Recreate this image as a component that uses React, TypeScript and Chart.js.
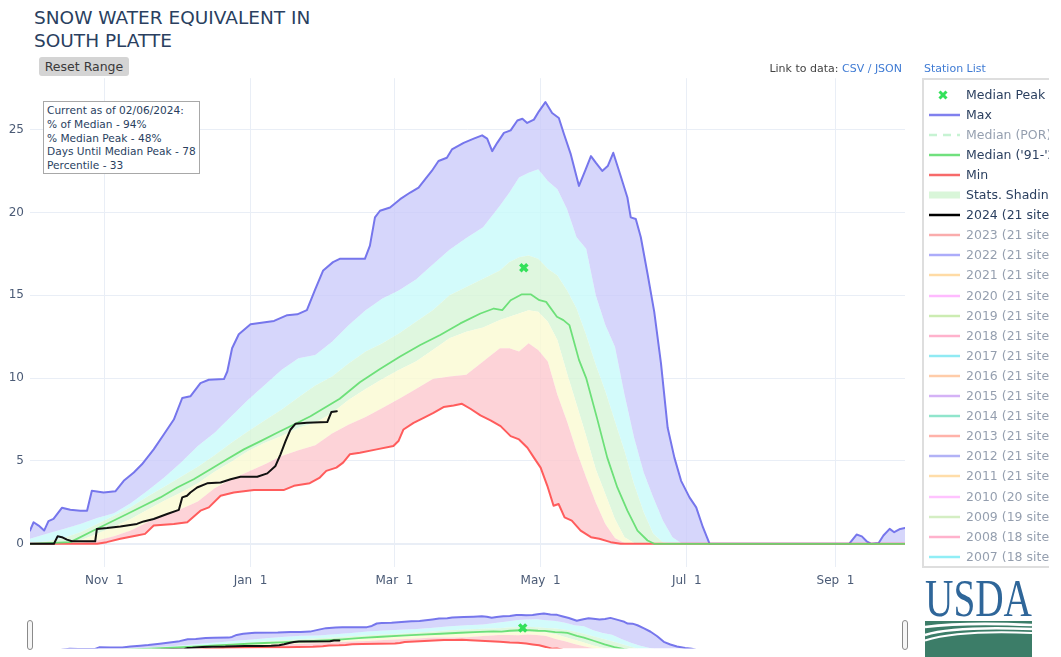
import React, { useEffect, useRef } from "react";
import { Chart, registerables } from "chart.js";

Chart.register(...registerables);

const FONT = "'DejaVu Sans', Verdana, sans-serif";

// ---- Axis ticks (x = day of water year, day 0 = Oct 1, 2023) ----
const tickDays = [31, 92, 152, 213, 274, 336];
const tickLabels = ["Nov 1", "Jan 1", "Mar 1", "May 1", "Jul 1", "Sep 1"];
const yTickValues = [0, 5, 10, 15, 20, 25];

// ---- Max ----
const maxDays = [0, 1.5, 3.6, 5.9, 7.7, 9.8, 13.3, 16.8, 21, 23.8, 25.8, 30.7, 35.6, 39.1, 43.3, 46.7, 51.6, 55.8, 60, 63.5, 66.9, 71.1, 74.6, 80.9, 82.3, 84.3, 87.1, 92, 101.8, 107.3, 111.5, 115.5, 118.8, 122.3, 126.4, 129.2, 139.7, 141.8, 143.9, 146, 150.2, 154.4, 158.6, 162.1, 164.8, 167.6, 170.4, 173.9, 176, 180.9, 185.1, 188.6, 190.7, 192.8, 194.9, 197.7, 200.5, 203.3, 205.4, 207.4, 210.2, 212.3, 215, 217.8, 220.6, 222.7, 225.6, 229, 231.8, 234, 236, 238.7, 241, 243.3, 246.4, 249.2, 250.6, 252.7, 254.8, 257.6, 260.4, 263.2, 266, 268.8, 271.6, 275.1, 277.9, 280.7, 283.5, 341.7, 344.8, 347, 349, 351, 354, 356, 358.6, 360.5, 363, 365];
const maxValues = [0.8, 1.3, 1.1, 0.8, 1.37, 1.5, 2.17, 2.05, 2.0, 2.0, 3.2, 3.1, 3.17, 3.8, 4.3, 4.8, 5.7, 6.6, 7.5, 8.8, 8.9, 9.7, 9.9, 9.94, 10.4, 11.8, 12.65, 13.25, 13.45, 13.8, 13.85, 14.1, 15.3, 16.5, 17.0, 17.2, 17.2, 18.0, 19.7, 20.1, 20.3, 20.8, 21.2, 21.5, 22.0, 22.5, 23.1, 23.3, 23.8, 24.2, 24.45, 24.65, 24.45, 23.7, 24.2, 24.8, 24.95, 25.55, 25.65, 25.4, 25.6, 26.1, 26.66, 26.0, 25.7, 24.75, 23.5, 21.6, 22.6, 23.4, 23.0, 22.5, 22.8, 23.6, 22.2, 20.9, 19.7, 19.6, 18.5, 16.3, 14.0, 10.9, 7.0, 5.2, 3.8, 2.8, 2.2, 1.0, 0, 0, 0.56, 0.45, 0.15, 0, 0.05, 0.5, 0.9, 0.7, 0.9, 0.95];

// ---- Percentile band boundaries (Stats. Shading) ----
const bandDays = [0, 7, 14, 21, 28, 35, 42, 49, 56, 63, 70, 77, 84, 91, 98, 105, 112, 119, 126, 133, 140, 147, 154, 161, 168, 175, 182, 189, 196, 200, 204, 208, 212, 216, 220, 224, 228, 232, 236, 240, 244, 248, 252, 256, 260, 264, 268, 272, 280, 300, 330, 365];
const p90Values = [0.3, 0.6, 0.9, 1.2, 1.55, 1.85, 2.45, 3.2, 4.0, 4.9, 5.9, 6.7, 7.7, 8.7, 9.6, 10.5, 11.2, 11.4, 12.2, 13.2, 14.1, 14.8, 15.3, 15.95, 16.85, 17.75, 18.45, 19.1, 20.4, 21.2, 22.1, 22.4, 22.6, 21.9, 21.4, 20.2, 18.5, 17.8, 15.0, 13.2, 11.9, 9.0, 6.4, 4.3, 2.8, 1.4, 0.4, 0, 0, 0, 0, 0];
const p70Values = [0, 0.15, 0.35, 0.7, 1.2, 1.7, 2.2, 2.85, 3.45, 4.05, 4.65, 5.35, 6.1, 6.8, 7.45, 8.1, 8.85, 9.55, 10.1, 10.9, 11.6, 12.1, 12.7, 13.4, 14.1, 15.0, 15.5, 16.0, 16.5, 17.0, 17.3, 17.4, 17.2, 16.6, 16.2, 15.3, 14.2, 12.6, 10.8, 9.2, 7.4, 5.6, 3.6, 1.9, 0.6, 0.1, 0, 0, 0, 0, 0, 0];
const p30Values = [0, 0, 0.02, 0.2, 0.6, 1.05, 1.5, 2.05, 2.6, 3.1, 3.65, 4.35, 4.95, 5.6, 6.1, 6.5, 7.0, 7.3, 7.9, 8.7, 9.35, 9.95, 10.5, 11.0, 11.7, 12.4, 12.8, 13.05, 13.5, 13.7, 13.9, 14.1, 14.0, 13.4, 12.3, 10.3, 8.4, 6.5, 4.5, 3.0, 1.5, 0.4, 0.05, 0, 0, 0, 0, 0, 0, 0, 0, 0];
const p10Values = [0, 0, 0, 0.05, 0.2, 0.45, 0.8, 1.3, 1.75, 2.1, 2.55, 3.35, 3.9, 4.35, 4.8, 5.3, 5.65, 5.95, 6.65, 7.2, 7.65, 8.2, 8.75, 9.35, 9.95, 10.1, 10.2, 11.0, 11.8, 11.8, 11.6, 12.1, 11.7, 11.0, 9.0, 7.4, 5.6, 4.0, 2.5, 1.2, 0.35, 0.05, 0, 0, 0, 0, 0, 0, 0, 0, 0, 0];

// ---- Median ('91-'20) ----
const medianDays = [0, 16.8, 19.6, 26.5, 33.5, 40.5, 47.4, 54.4, 61.4, 68.3, 75.3, 82.2, 89.2, 96.2, 103.1, 110.1, 117, 121, 129.2, 137.6, 146, 154.4, 162.8, 171.1, 179.5, 187.9, 193.5, 197, 200.5, 205, 209, 212.5, 215.3, 219.8, 222.5, 225, 229, 232, 236.5, 240.8, 245, 249.2, 253.4, 257.6, 260.4, 365];
const medianValues = [0, 0.1, 0.3, 0.8, 1.3, 1.8, 2.3, 2.8, 3.4, 3.9, 4.5, 5.1, 5.7, 6.2, 6.7, 7.2, 7.7, 8.05, 8.75, 9.75, 10.55, 11.3, 12.0, 12.6, 13.3, 13.9, 14.2, 14.1, 14.7, 15.05, 15.05, 14.7, 14.6, 13.7, 13.5, 13.2, 11.1, 10.0, 7.6, 5.2, 3.4, 2.0, 0.8, 0.2, 0, 0];

// ---- Min ----
const minDays = [0, 28, 32, 37.7, 44.6, 48, 51.6, 60, 65.6, 71.1, 74.6, 79.5, 85, 93.4, 106, 110.1, 116.7, 120.9, 123.6, 127.8, 130.6, 133.4, 137.6, 144.6, 151.6, 153.7, 155.8, 160, 164.2, 168.3, 172.5, 176.7, 180.2, 183.7, 187.9, 192.1, 196.3, 200.5, 204, 207.5, 210.2, 213, 215.8, 218.4, 220.5, 223, 226, 229.7, 234, 237.5, 242.2, 246.4, 365];
const minValues = [0, 0, 0.1, 0.3, 0.5, 0.6, 1.1, 1.2, 1.3, 2.0, 2.2, 2.9, 3.1, 3.25, 3.25, 3.5, 3.66, 4.0, 4.4, 4.6, 4.9, 5.4, 5.5, 5.7, 5.9, 6.2, 6.9, 7.3, 7.6, 7.9, 8.25, 8.35, 8.45, 8.15, 7.75, 7.45, 7.1, 6.5, 6.3, 5.8, 5.2, 4.6, 3.5, 2.3, 2.4, 1.6, 1.4, 0.8, 0.4, 0.3, 0.1, 0, 0];

// ---- 2024 (21 sites) ----
const wy2024Days = [0, 10, 11.5, 13.3, 15.4, 17.5, 27.2, 27.9, 32.1, 37.7, 44.6, 47.4, 51.6, 57.2, 62.1, 63.5, 65.5, 66.9, 69.7, 73.9, 79.5, 83.7, 87.8, 94.8, 99, 102.4, 104.5, 106.6, 108.7, 110.8, 115.5, 124, 125.7, 128];
const wy2024Values = [0, 0, 0.45, 0.4, 0.25, 0.15, 0.15, 0.9, 0.95, 1.05, 1.2, 1.35, 1.5, 1.8, 2.05, 2.8, 2.9, 3.1, 3.4, 3.65, 3.7, 3.9, 4.05, 4.05, 4.25, 4.7, 5.4, 6.2, 6.9, 7.25, 7.3, 7.35, 7.95, 8.0];

// ---- Median Peak ----
const medianPeakDay = [206];
const medianPeakValue = [16.66];

// ---- Texts ----
const titleLines = ["SNOW WATER EQUIVALENT IN", "SOUTH PLATTE"];
const infoLines = [
  "Current as of 02/06/2024:",
  "% of Median - 94%",
  "% Median Peak - 48%",
  "Days Until Median Peak - 78",
  "Percentile - 33",
];
const yearLabels = ["2023", "2022", "2021", "2020", "2019", "2018", "2017", "2016", "2015", "2014", "2013", "2012", "2011", "2010", "2009", "2008", "2007"];
const yearSites = [21, 21, 21, 21, 21, 21, 21, 21, 21, 21, 21, 21, 21, 20, 19, 18, 18];
const yearColors = ["#f55b5b", "#5a5af5", "#ffb84d", "#ff77ff", "#99d966", "#ff6699", "#22d6e8", "#ff9955", "#aa66ee", "#22cc99", "#ff6655", "#6666ee", "#ffbb55", "#ff88ff", "#aade88", "#ff6699", "#22ddee"];

const COL = {
  max: "#7676ec",
  median: "rgba(96,222,110,0.9)",
  min: "#ff5c5c",
  now: "#111111",
  peak: "#33e15a",
  lav: "rgba(200,200,250,0.75)",
  cyan: "rgba(200,250,250,0.8)",
  green: "rgba(215,245,215,0.8)",
  yellow: "rgba(250,250,210,0.8)",
  red: "rgba(252,200,206,0.8)",
  grid: "#e9eef6",
  tick: "#4b5b76",
  text: "#2a3f5f",
};

function pts(xs: number[], ys: number[]) {
  return xs.map((x, i) => ({ x, y: ys[i] }));
}

function buildDatasets(): any[] {
  return [
    { label: "2024 (21 sites)", data: pts(wy2024Days, wy2024Values), borderColor: COL.now, borderWidth: 2, fill: false },
    {
      label: "Median Peak",
      data: pts(medianPeakDay, medianPeakValue),
      showLine: false,
      pointStyle: "crossRot",
      pointRadius: 5,
      pointBorderWidth: 3.5,
      pointBorderColor: COL.peak,
      pointBackgroundColor: COL.peak,
      fill: false,
    },
    { label: "Median ('91-'20)", data: pts(medianDays, medianValues), borderColor: COL.median, borderWidth: 1.8, fill: false },
    { label: "Min", data: pts(minDays, minValues), borderColor: COL.min, borderWidth: 2, fill: false },
    { label: "Max", data: pts(maxDays, maxValues), borderColor: COL.max, borderWidth: 2, fill: 8, backgroundColor: COL.lav },
    { label: "10%", data: pts(bandDays, p10Values), borderWidth: 0, fill: 3, backgroundColor: COL.red },
    { label: "30%", data: pts(bandDays, p30Values), borderWidth: 0, fill: 5, backgroundColor: COL.yellow },
    { label: "70%", data: pts(bandDays, p70Values), borderWidth: 0, fill: 6, backgroundColor: COL.green },
    { label: "90%", data: pts(bandDays, p90Values), borderWidth: 0, fill: 7, backgroundColor: COL.cyan },
  ];
}

const commonOptions: any = {
  animation: false,
  responsive: false,
  maintainAspectRatio: false,
  events: [],
  elements: {
    point: { radius: 0, hoverRadius: 0 },
    line: { tension: 0, borderJoinStyle: "round", borderCapStyle: "round" },
  },
  plugins: {
    legend: { display: false },
    tooltip: { enabled: false },
    title: { display: false },
    filler: { drawTime: "beforeDatasetsDraw", propagate: false },
  },
};

function mainConfig(): any {
  return {
    type: "line",
    data: { datasets: buildDatasets() },
    options: {
      ...commonOptions,
      layout: { padding: { top: 13, right: 13, left: 0, bottom: 0 } },
      scales: {
        x: {
          type: "linear",
          min: 0,
          max: 365,
          afterBuildTicks: (s: any) => {
            s.ticks = tickDays.map((v) => ({ value: v }));
          },
          afterFit: (s: any) => {
            s.height = 33;
          },
          ticks: {
            autoSkip: false,
            maxRotation: 0,
            padding: 7,
            color: COL.tick,
            font: { family: FONT, size: 12 },
            callback: (_v: any, i: number) => tickLabels[i].replace(" ", "  "),
          },
          grid: { color: COL.grid, drawTicks: false, lineWidth: 1 },
          border: { display: false },
        },
        y: {
          type: "linear",
          min: -1.4,
          max: 28.1,
          afterBuildTicks: (s: any) => {
            s.ticks = yTickValues.map((v) => ({ value: v }));
          },
          afterFit: (s: any) => {
            s.width = 30;
          },
          ticks: {
            autoSkip: false,
            padding: 6,
            color: COL.tick,
            font: { family: FONT, size: 12 },
            callback: (v: any) => String(v),
          },
          grid: {
            color: COL.grid,
            drawTicks: false,
            lineWidth: (c: any) => (c.tick && c.tick.value === 0 ? 2 : 1),
          },
          border: { display: false },
        },
      },
    },
  };
}

function miniConfig(): any {
  return {
    type: "line",
    data: { datasets: buildDatasets() },
    options: {
      ...commonOptions,
      layout: { padding: 0 },
      scales: {
        x: { type: "linear", min: 0, max: 365, display: false },
        y: { type: "linear", min: 2.4, max: 30.1, display: false },
      },
    },
  };
}

type LegendItem = { label: string; kind: string; color: string; active: boolean };

const legendItems: LegendItem[] = [
  { label: "Median Peak", kind: "x", color: COL.peak, active: true },
  { label: "Max", kind: "line", color: "#8080ee", active: true },
  { label: "Median (POR)", kind: "dash", color: "#8fe8a8", active: false },
  { label: "Median ('91-'20)", kind: "line", color: "#70e07e", active: true },
  { label: "Min", kind: "line", color: "#f76a6a", active: true },
  { label: "Stats. Shading", kind: "band", color: "#d9f6d9", active: true },
  { label: "2024 (21 sites)", kind: "line", color: "#000000", active: true },
  ...yearLabels.map((y, i) => ({
    label: `${y} (${yearSites[i]} sites)`,
    kind: "line",
    color: yearColors[i],
    active: false,
  })),
];

function LegendSymbol({ item }: { item: LegendItem }) {
  return (
    <svg width={34} height={16} style={{ position: "absolute", left: 5, top: 0 }}>
      {item.kind === "x" && (
        <g stroke={item.color} strokeWidth={3} strokeLinecap="butt">
          <line x1={12.5} y1={4.5} x2={19.5} y2={11.5} />
          <line x1={19.5} y1={4.5} x2={12.5} y2={11.5} />
        </g>
      )}
      {item.kind === "line" && <line x1={2} y1={8} x2={33} y2={8} stroke={item.color} strokeWidth={2.5} />}
      {item.kind === "dash" && (
        <line x1={2} y1={8} x2={33} y2={8} stroke={item.color} strokeWidth={2.5} strokeDasharray="8 6" />
      )}
      {item.kind === "band" && <rect x={2} y={4.5} width={31} height={7} fill={item.color} />}
    </svg>
  );
}

function Legend() {
  return (
    <div style={{ position: "absolute", left: 922, top: 78, width: 127, height: 491, overflow: "hidden" }}>
      <div
        style={{
          position: "absolute",
          left: 0,
          top: 0,
          width: 300,
          height: 490,
          boxSizing: "border-box",
          border: "2px solid #dedede",
          background: "#fff",
        }}
      />
      {legendItems.map((item, i) => (
        <div
          key={item.label}
          style={{
            position: "absolute",
            left: 0,
            top: 16.5 + 20.1 * i - 8,
            height: 16,
            width: 300,
            opacity: item.active ? 1 : 0.5,
          }}
        >
          <LegendSymbol item={item} />
          <span
            style={{
              position: "absolute",
              left: 44,
              top: 0,
              lineHeight: "16px",
              fontSize: 12.5,
              color: COL.text,
              whiteSpace: "nowrap",
            }}
          >
            {item.label}
          </span>
        </div>
      ))}
    </div>
  );
}

function UsdaLogo() {
  const blue = "#2f6699";
  const green = "#3c7d68";
  return (
    <svg width={112} height={80} style={{ position: "absolute", left: 924, top: 577 }}>
      <text
        x={1}
        y={39}
        fontFamily="'Liberation Serif', 'DejaVu Serif', serif"
        fontSize={52}
        fill={blue}
        textLength={107}
        lengthAdjust="spacingAndGlyphs"
      >
        USDA
      </text>
      <rect x={1} y={44} width={107} height={36} fill={green} />
      <path d="M1 50 Q 40 45 108 48" stroke="#fff" strokeWidth={2.6} fill="none" />
      <path d="M1 58 Q 30 49 108 52" stroke="#fff" strokeWidth={2.6} fill="none" />
      <path d="M1 63.5 Q 35 53 108 56" stroke="#fff" strokeWidth={2} fill="none" />
    </svg>
  );
}

export default function App() {
  const mainRef = useRef<HTMLCanvasElement>(null);
  const miniRef = useRef<HTMLCanvasElement>(null);

  useEffect(() => {
    Chart.defaults.font.family = FONT;
    const c1 = new Chart(mainRef.current as HTMLCanvasElement, mainConfig());
    const c2 = new Chart(miniRef.current as HTMLCanvasElement, miniConfig());
    return () => {
      c1.destroy();
      c2.destroy();
    };
  }, []);

  const handle = (left: number) => (
    <div
      style={{
        position: "absolute",
        left,
        top: 620,
        width: 6,
        height: 30,
        boxSizing: "border-box",
        border: "1px solid #8a8a8a",
        borderRadius: 3,
        background: "#f6f6f6",
      }}
    />
  );

  return (
    <div
      style={{
        position: "absolute",
        left: 0,
        top: 0,
        width: 1061,
        height: 657,
        overflow: "hidden",
        background: "#ffffff",
        fontFamily: FONT,
      }}
    >
      <canvas ref={mainRef} width={918} height={535} style={{ position: "absolute", left: 0, top: 65, width: 918, height: 535 }} />
      <canvas ref={miniRef} width={875} height={57} style={{ position: "absolute", left: 30, top: 600, width: 875, height: 57 }} />

      <div style={{ position: "absolute", left: 34, top: 6, fontSize: 18.5, lineHeight: "23px", color: COL.text, whiteSpace: "nowrap" }}>
        {titleLines.map((t) => (
          <div key={t}>{t}</div>
        ))}
      </div>

      <div
        style={{
          position: "absolute",
          left: 39,
          top: 57,
          width: 90,
          height: 19,
          borderRadius: 3,
          background: "#d4d4d4",
          color: "#3a3a3a",
          fontSize: 12.5,
          lineHeight: "19px",
          textAlign: "center",
          whiteSpace: "nowrap",
        }}
      >
        Reset Range
      </div>

      <div style={{ position: "absolute", right: 159, top: 62, fontSize: 11, lineHeight: "13px", whiteSpace: "nowrap", color: "#444" }}>
        Link to data: <span style={{ color: "#3f7bd4" }}>CSV</span>
        <span style={{ color: "#3f7bd4" }}> / </span>
        <span style={{ color: "#3f7bd4" }}>JSON</span>
      </div>
      <div style={{ position: "absolute", left: 924, top: 62, fontSize: 11, lineHeight: "13px", whiteSpace: "nowrap", color: "#3f7bd4" }}>
        Station List
      </div>

      <div
        style={{
          position: "absolute",
          left: 43,
          top: 101,
          width: 157,
          height: 73,
          boxSizing: "border-box",
          border: "1px solid #a8a8a8",
          background: "#ffffff",
          padding: "2px 0 0 3px",
          fontSize: 10.6,
          lineHeight: "13.8px",
          color: COL.text,
          whiteSpace: "nowrap",
        }}
      >
        {infoLines.map((t) => (
          <div key={t}>{t}</div>
        ))}
      </div>

      <Legend />
      {handle(27)}
      {handle(902)}
      <UsdaLogo />
    </div>
  );
}
